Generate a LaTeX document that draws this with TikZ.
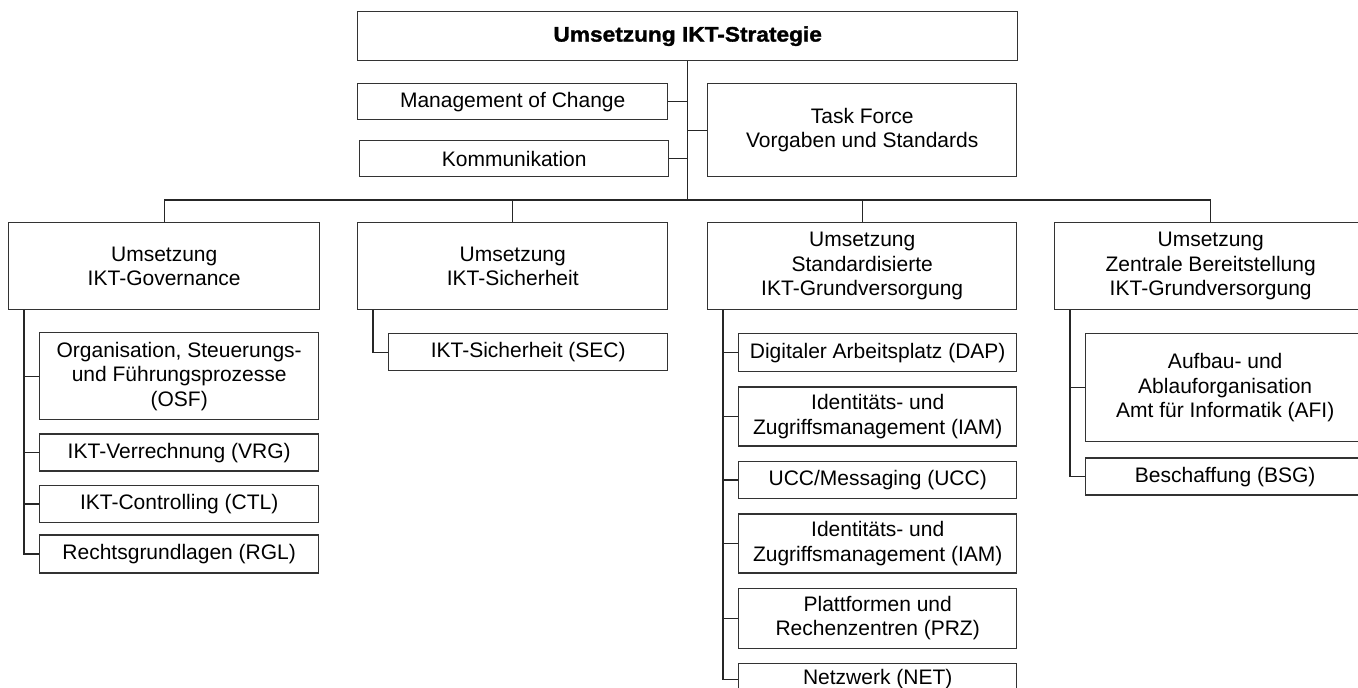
\documentclass[tikz,border=0pt]{standalone}
\usepackage{fontspec}
\setmainfont{Liberation Sans}
\newfontfamily\headfont{Liberation Sans}[FakeStretch=1.08,FakeBold=1.5]
\usetikzlibrary{positioning,calc}

\begin{document}
\begin{tikzpicture}[x=1pt,y=-1pt,
      font=\fontsize{21}{24.5}\selectfont,node distance=14pt,
      box/.style={draw=black!80,line width=1.4pt,align=center,inner sep=0pt,
                  anchor=north west},
      head/.style={box,minimum width=310pt,minimum height=87pt},
      leaf/.style={box,minimum width=279pt,minimum height=37pt},
      link/.style={draw=black!85,line width=1.3pt}]
    \useasboundingbox (0,0) rectangle (1358,688);
    % top level
    \node[box,minimum width=660pt,minimum height=49pt] (top) at (357,11)
      {\headfont\bfseries Umsetzung IKT-Strategie};
    \node[box,minimum width=310pt,minimum height=36pt] (moc) at (357,83) {Management of Change};
    \node[box,minimum width=309pt,minimum height=36pt] (kom) at (359,140) {Kommunikation};
    \node[box,minimum width=309pt,minimum height=93pt] (task) at (707,83)
      {Task Force\\Vorgaben und Standards};
    % projects
    \node[head,minimum width=311pt] (gov) at (8,222) {Umsetzung\\IKT-Governance};
    \node[head] (sich) at (357,222) {Umsetzung\\IKT-Sicherheit};
    \node[head,minimum width=309pt] (std) at (707,222)
      {Umsetzung\\Standardisierte\\IKT-Grundversorgung};
    \node[head,minimum width=312pt] (zen) at (1054,222)
      {Umsetzung\\Zentrale Bereitstellung\\IKT-Grundversorgung};
    % sub projects
    \node[leaf,minimum height=87pt] (osf) at (39,332)
      {Organisation, Steuerungs-\\und Führungsprozesse\\(OSF)};
    \node[leaf,below=13pt of osf] (vrg) {IKT-Verrechnung (VRG)};
    \node[leaf,below=13pt of vrg] (ctl) {IKT-Controlling (CTL)};
    \node[leaf,below=11pt of ctl,minimum height=38pt] (rgl) {Rechtsgrundlagen (RGL)};
    \node[leaf] (sec) at (388,333) {IKT-Sicherheit (SEC)};
    \node[leaf,minimum width=278pt,minimum height=38pt] (dap) at (738,333)
      {Digitaler Arbeitsplatz (DAP)};
    \node[leaf,minimum width=278pt,minimum height=59pt,below=of dap] (iam1)
      {Identitäts- und\\Zugriffsmanagement (IAM)};
    \node[leaf,minimum width=278pt,below=of iam1] (ucc) {UCC/Messaging (UCC)};
    \node[leaf,minimum width=278pt,minimum height=59pt,below=of ucc] (iam2)
      {Identitäts- und\\Zugriffsmanagement (IAM)};
    \node[leaf,minimum width=278pt,minimum height=60pt,below=of iam2] (prz)
      {Plattformen und\\Rechenzentren (PRZ)};
    \node[leaf,minimum width=278pt,minimum height=31pt,below=of prz] (net) {Netzwerk (NET)};
    \node[leaf,minimum height=108pt] (afi) at (1085,333)
      {Aufbau- und\\Ablauforganisation\\Amt für Informatik (AFI)};
    \node[leaf,below=15pt of afi] (bsg) {Beschaffung (BSG)};
    % connectors
    \coordinate (bus) at (0,200);
    \draw[link] (top.south) -- (top.south |- bus);
    \foreach \n in {moc,kom}
      \draw[link] (\n.east) -- (\n.east -| top.south);
    \draw[link] (task.west) -- (task.west -| top.south);
    \draw[link] (gov.north) |- (zen.north |- bus) -- (zen.north);
    \foreach \n in {sich,std}
      \draw[link] (\n.north) -- (\n.north |- bus);
    \foreach \c/\last in {gov/rgl,sich/sec,std/net,zen/bsg}
      \draw[link] ($(\c.south west)+(16,0)$) |- (\last.west);
    \foreach \n in {osf,vrg,ctl,dap,iam1,ucc,iam2,prz,afi}
      \draw[link] (\n.west) -- ++(-15,0);
  \end{tikzpicture}
\end{document}
